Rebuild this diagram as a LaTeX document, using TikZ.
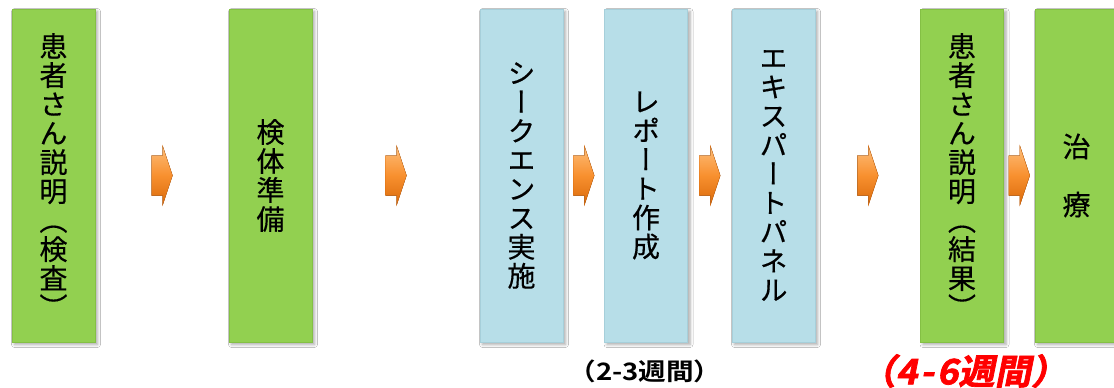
\documentclass[tikz,border=0pt]{standalone}
\usepackage{fontspec}
\usetikzlibrary{calc,shadows.blur}
\newfontfamily\vjp{Noto Sans CJK JP}[RawFeature=+vert, FakeBold=0.4]
\newfontfamily\jpb{Noto Sans CJK JP}[UprightFont={* Bold}, FakeStretch=1.15]
\newfontfamily\jpred{Noto Sans CJK JP}[UprightFont={* Bold}, FakeSlant=0.2, FakeStretch=1.04, FakeBold=2]
\definecolor{boxgreen}{HTML}{92D050}
\definecolor{boxblue}{HTML}{B7DEE8}
\definecolor{greenedge}{HTML}{84C044}
\definecolor{blueedge}{HTML}{A6CFDA}
\definecolor{arrowlight}{HTML}{FDBE7A}
\definecolor{arrowmid}{HTML}{F8902F}
\definecolor{arrowdark}{HTML}{D9690A}
\tikzset{
  stepbox/.style={minimum width=83pt, minimum height=333pt, inner sep=0pt,
    align=center, font=\fontsize{28}{29}\vjp, line width=0.6pt,
    blur shadow={shadow xshift=2.5pt, shadow yshift=-2.5pt, shadow blur radius=3pt, shadow opacity=35}},
  greenbox/.style={stepbox, fill=boxgreen, draw=greenedge},
  bluebox/.style={stepbox, fill=boxblue, draw=blueedge},
  barrow/.pic={
    \fill[top color=arrowlight, bottom color=arrowdark, middle color=arrowmid, draw=arrowdark, line width=0.3pt]
      (-10.5,-20) -- (0.5,-20) -- (0.5,-30) -- (10.5,0) -- (0.5,30) -- (0.5,20) -- (-10.5,20) -- cycle;
  }
}
\begin{document}
\begin{tikzpicture}[x=1pt, y=-1pt]
\useasboundingbox (0,0) rectangle (1114,388);
\clip (0,0) rectangle (1114,388);
\fill[white] (0,0) rectangle (1114,388);
\node[greenbox] (b1) at (53.5,175.5) {患\\者\\さ\\ん\\説\\明\\（\\検\\査\\）};
\node[greenbox] (b2) at (270.5,175.5) {検\\体\\準\\備};
\node[bluebox] (b3) at (521.5,175.5) {シ\\ー\\ク\\エ\\ン\\ス\\実\\施};
\node[bluebox] (b4) at (646,175.5) {レ\\ポ\\ー\\ト\\作\\成};
\node[bluebox] (b5) at (773.5,175.5) {エ\\キ\\ス\\パ\\ー\\ト\\パ\\ネ\\ル};
\node[greenbox] (b6) at (962,175.5) {患\\者\\さ\\ん\\説\\明\\（\\結\\果\\）};
\node[greenbox] (b7) at (1076.5,175.5) {治\\　\\療};
\pic at ($(b1.east)!0.5!(b2.west)$) {barrow};
\pic at ($(b2.east)!0.5!(b3.west)$) {barrow};
\pic at ($(b3.east)!0.5!(b4.west)$) {barrow};
\pic at ($(b4.east)!0.5!(b5.west)$) {barrow};
\pic at ($(b5.east)!0.5!(b6.west)$) {barrow};
\pic at ($(b6.east)!0.5!(b7.west)$) {barrow};
\node[font=\fontsize{24}{24}\jpb, inner sep=0pt] (t1) at (645,371.5) {（2-3週間）};
\node[font=\fontsize{35}{35}\jpred, text=red, inner sep=0pt] (t2) at (963.5,371) {（4\hspace{3pt}-\hspace{3pt}6週間）};
\end{tikzpicture}
\end{document}
